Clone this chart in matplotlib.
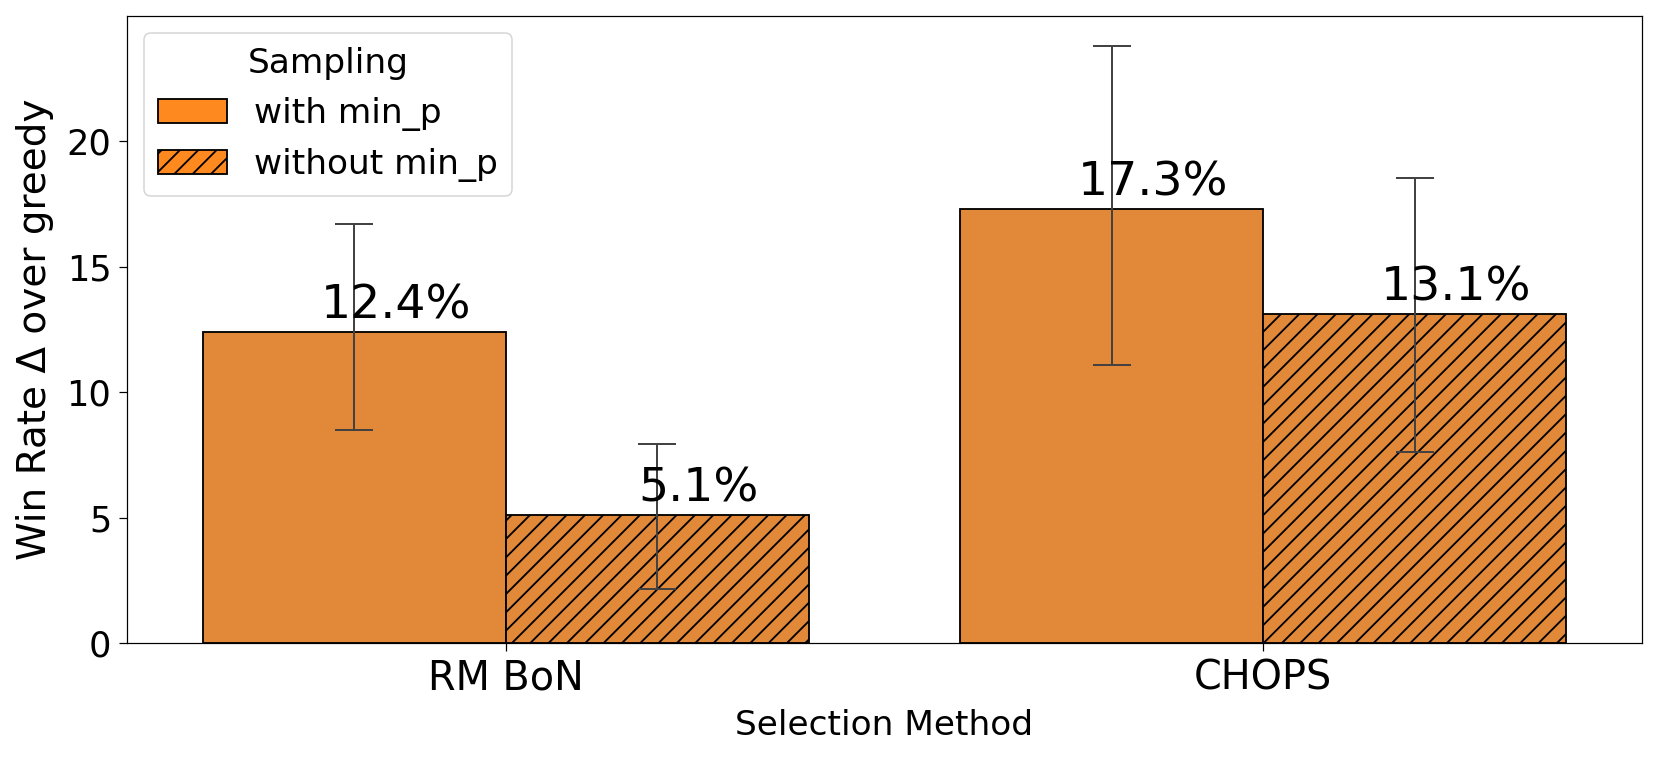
import numpy as np
import matplotlib
matplotlib.use("Agg")
import matplotlib.pyplot as plt
from matplotlib.patches import Patch

# ---- data ----
categories = ["RM BoN", "CHOPS"]
hue_levels = ["with min_p", "without min_p"]
with_minp = [12.4, 17.3]
without_minp = [5.1, 13.1]
with_minp_lo = [8.5, 11.1]
with_minp_hi = [16.7, 23.8]
without_minp_lo = [2.15, 7.6]
without_minp_hi = [7.95, 18.55]
value_labels_with = ["12.4%", "17.3%"]
value_labels_without = ["5.1%", "13.1%"]

DPI = 110
plt.rcParams['hatch.linewidth'] = 1.2
fig = plt.figure(figsize=(1662 / DPI, 758 / DPI), dpi=DPI)
ax = fig.add_axes([0.0764, 0.1517, 0.9115, 0.8272])

bar_color = "#e28839"
legend_color = "#fe891f"
err_color = "#424242"
width = 0.4
x = np.arange(len(categories))

series = [
    (with_minp, with_minp_lo, with_minp_hi, value_labels_with, "", -width / 2),
    (without_minp, without_minp_lo, without_minp_hi, value_labels_without, "//", width / 2),
]

for vals, lo, hi, labs, hatch, off in series:
    xs = x + off
    ax.bar(xs, vals, width=width, color=bar_color, edgecolor="black",
           linewidth=1.2, hatch=hatch, zorder=2)
    vals_a = np.array(vals)
    yerr = np.vstack([vals_a - np.array(lo), np.array(hi) - vals_a])
    ax.errorbar(xs, vals_a, yerr=yerr, fmt="none", ecolor=err_color,
                elinewidth=1.3, capsize=12.7, capthick=1.3, zorder=3)
    for xi, v, lab in zip(xs, vals, labs):
        ax.text(xi + 0.055, v + 0.15, lab, ha="center", va="bottom",
                fontsize=31, zorder=4)

ax.set_xlim(-0.5, 1.5)
ax.set_ylim(0, max(with_minp_hi + without_minp_hi) * 1.05)
ax.set_xticks(x)
ax.set_xticklabels(categories, fontsize=26)
ax.set_yticks([0, 5, 10, 15, 20])
ax.tick_params(axis="y", labelsize=23, length=5.2, pad=5)
ax.tick_params(axis="x", length=5.2, pad=5)
ax.set_xlabel("Selection Method", fontsize=22.5, labelpad=7)
ax.set_ylabel("Win Rate Δ over greedy", fontsize=25.5, labelpad=8)

handles = [
    Patch(facecolor=legend_color, edgecolor="black", linewidth=1.2, hatch=""),
    Patch(facecolor=legend_color, edgecolor="black", linewidth=1.2, hatch="//"),
]
leg = ax.legend(handles, hue_levels, title="Sampling", loc="upper left",
                fontsize=22.5, title_fontsize=22.5)

fig.savefig("out.png", dpi=DPI)
